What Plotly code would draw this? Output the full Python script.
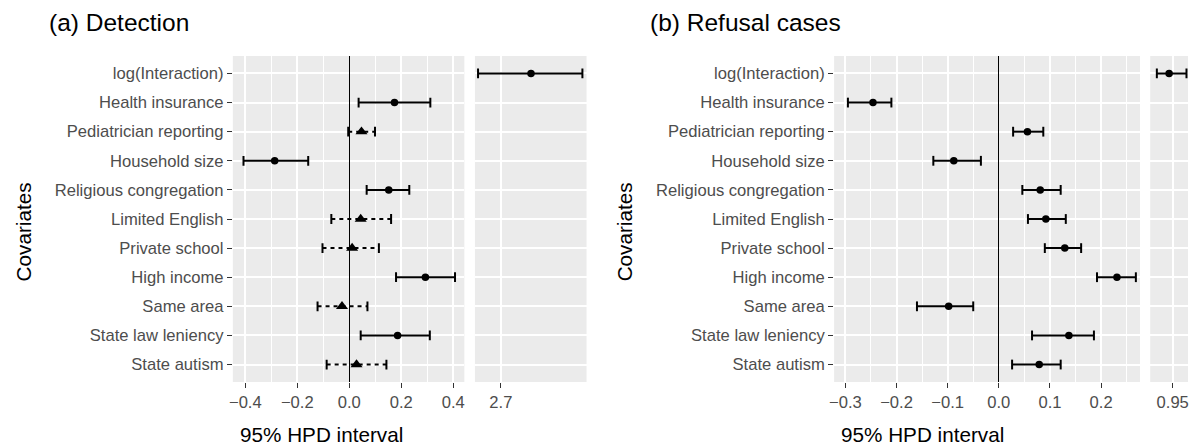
import plotly.graph_objects as go

# ---------------- data ----------------
COVARIATES = ["log(Interaction)", "Health insurance", "Pediatrician reporting", "Household size",
              "Religious congregation", "Limited English", "Private school", "High income",
              "Same area", "State law leniency", "State autism"]
BROKEN_ROW = "log(Interaction)"

DET_EST = [2.816, 0.174, 0.047, -0.287, 0.152, 0.044, 0.011, 0.293, -0.028, 0.186, 0.028]
DET_LO = [2.612, 0.036, -0.004, -0.407, 0.067, -0.069, -0.103, 0.180, -0.122, 0.044, -0.087]
DET_HI = [3.014, 0.312, 0.099, -0.158, 0.231, 0.161, 0.114, 0.407, 0.070, 0.310, 0.143]
DET_SIG = [True, True, False, True, True, False, False, True, False, True, False]

REF_EST = [0.943, -0.246, 0.056, -0.088, 0.081, 0.092, 0.129, 0.231, -0.098, 0.137, 0.079]
REF_LO = [0.919, -0.295, 0.028, -0.128, 0.046, 0.057, 0.090, 0.192, -0.160, 0.065, 0.026]
REF_HI = [0.977, -0.210, 0.087, -0.035, 0.121, 0.131, 0.161, 0.268, -0.050, 0.186, 0.121]
REF_SIG = [True, True, True, True, True, True, True, True, True, True, True]

DET_TICKS_MAIN = [-0.4, -0.2, 0.0, 0.2, 0.4]
DET_MINOR = [-0.3, -0.1, 0.1, 0.3]
DET_TICKS_BREAK = [2.7]
REF_TICKS_MAIN = [-0.3, -0.2, -0.1, 0.0, 0.1, 0.2]
REF_MINOR = [-0.25, -0.15, -0.05, 0.05, 0.15, 0.25]
REF_TICKS_BREAK = [0.95]

TITLES = ["(a) Detection", "(b) Refusal cases"]
X_TITLE = "95% HPD interval"
Y_TITLE = "Covariates"

# ---------------- layout geometry (page pixels) ----------------
W, H = 1192, 446
FONT = "Liberation Sans, Arial, Helvetica, sans-serif"
TICK_FONT = dict(family=FONT, size=16.6, color="#4D4D4D")
PANEL_TOP, PANEL_BOT = 56, 382


def fx(px):
    return px / W


def fy(py):
    return 1 - py / H


def px_x(a, b):
    return [fx(a), fx(b)]


Y_DOMAIN = [fy(PANEL_BOT), fy(PANEL_TOP)]

fig = go.Figure()


def add_chart(est, lo, hi, sig, xa_main, ya_main, xa_brk, ya_brk):
    groups = {}
    for cat, e, l, h, s in zip(COVARIATES, est, lo, hi, sig):
        key = (xa_brk, ya_brk) if cat == BROKEN_ROW else (xa_main, ya_main)
        g = groups.setdefault(key, dict(sx=[], sy=[], dx=[], dy=[], cx=[], cy=[],
                                        ox=[], oy=[], tx=[], ty=[]))
        if s:
            g["sx"] += [l, h, None]
            g["sy"] += [cat, cat, None]
            g["ox"].append(e)
            g["oy"].append(cat)
        else:
            g["dx"] += [l, h, None]
            g["dy"] += [cat, cat, None]
            g["tx"].append(e)
            g["ty"].append(cat)
        g["cx"] += [l, h]
        g["cy"] += [cat, cat]
    for (xa, ya), g in groups.items():
        common = dict(xaxis=xa, yaxis=ya, showlegend=False, hoverinfo="skip")
        if g["sx"]:
            fig.add_trace(go.Scatter(x=g["sx"], y=g["sy"], mode="lines",
                                     line=dict(color="black", width=2), **common))
        if g["dx"]:
            fig.add_trace(go.Scatter(x=g["dx"], y=g["dy"], mode="lines",
                                     line=dict(color="black", width=2, dash="4px,4px"), **common))
        fig.add_trace(go.Scatter(x=g["cx"], y=g["cy"], mode="markers",
                                 marker=dict(symbol="line-ns", size=7,
                                             line=dict(color="black", width=2)), **common))
        if g["ox"]:
            fig.add_trace(go.Scatter(x=g["ox"], y=g["oy"], mode="markers",
                                     marker=dict(symbol="circle", size=7.5, color="black"), **common))
        if g["tx"]:
            fig.add_trace(go.Scatter(x=g["tx"], y=g["ty"], mode="markers",
                                     marker=dict(symbol="triangle-up", size=10.5, color="black"), **common))


add_chart(DET_EST, DET_LO, DET_HI, DET_SIG, "x", "y", "x2", "y2")
add_chart(REF_EST, REF_LO, REF_HI, REF_SIG, "x3", "y3", "x4", "y4")


def xaxis(domain, rng, ticks, minor, anchor, fmt, zero):
    d = dict(domain=domain, range=rng, anchor=anchor, tickmode="array", tickvals=ticks,
             tickformat=fmt, ticks="outside", ticklen=5, tickwidth=1, tickcolor="#333333",
             tickfont=TICK_FONT, showgrid=True, gridcolor="white", gridwidth=2,
             zeroline=zero, zerolinecolor="black", zerolinewidth=1, showline=False,
             fixedrange=True)
    if minor:
        d["minor"] = dict(tickmode="array", tickvals=minor, showgrid=True,
                          gridcolor="white", gridwidth=1, ticks="")
    return d


def yaxis(anchor, labels):
    return dict(domain=Y_DOMAIN, anchor=anchor, type="category",
                categoryorder="array", categoryarray=COVARIATES,
                range=[len(COVARIATES) - 0.4, -0.6],
                showgrid=True, gridcolor="white", gridwidth=2, zeroline=False,
                showticklabels=labels, ticks="outside" if labels else "",
                ticklen=5, tickwidth=1, tickcolor="#333333", tickfont=TICK_FONT,
                fixedrange=True)


fig.update_layout(
    width=W, height=H,
    margin=dict(l=0, r=0, t=0, b=0),
    paper_bgcolor="white", plot_bgcolor="#EBEBEB",
    font=dict(family=FONT, color="black"),
    showlegend=False,
    xaxis=xaxis(px_x(229, 461.7), [-0.448, 0.443], DET_TICKS_MAIN, DET_MINOR, "y", ".1f", True),
    yaxis=yaxis("x", True),
    xaxis2=xaxis(px_x(472.3, 584.5), [2.600, 3.030], DET_TICKS_BREAK, None, "y2", ".1f", False),
    yaxis2=yaxis("x2", False),
    xaxis3=xaxis(px_x(833.3, 1140.7), [-0.322, 0.276], REF_TICKS_MAIN, REF_MINOR, "y3", ".1f", True),
    yaxis3=yaxis("x3", True),
    xaxis4=xaxis(px_x(1151, 1189), [0.906, 0.980], REF_TICKS_BREAK, None, "y4", ".2f", False),
    yaxis4=yaxis("x4", False),
)

ann = []
for title, tx, ytx, xtx in zip(TITLES, [42, 646], [19.5, 623.5], [318.3, 922]):
    ann.append(dict(text=title, x=fx(tx), y=fy(22), xref="paper", yref="paper",
                    xanchor="left", yanchor="middle", showarrow=False,
                    font=dict(family=FONT, size=24.5, color="black")))
    ann.append(dict(text=Y_TITLE, x=fx(ytx), y=fy(232), xref="paper", yref="paper",
                    xanchor="center", yanchor="middle", textangle=-90, showarrow=False,
                    font=dict(family=FONT, size=20.7, color="black")))
    ann.append(dict(text=X_TITLE, x=fx(xtx), y=fy(434.5), xref="paper", yref="paper",
                    xanchor="center", yanchor="middle", showarrow=False,
                    font=dict(family=FONT, size=20.7, color="black")))
fig.update_layout(annotations=ann)

fig.write_html("out.html", config={"displayModeBar": False},
               post_script="document.body.style.margin='0';document.body.style.overflow='hidden';")
